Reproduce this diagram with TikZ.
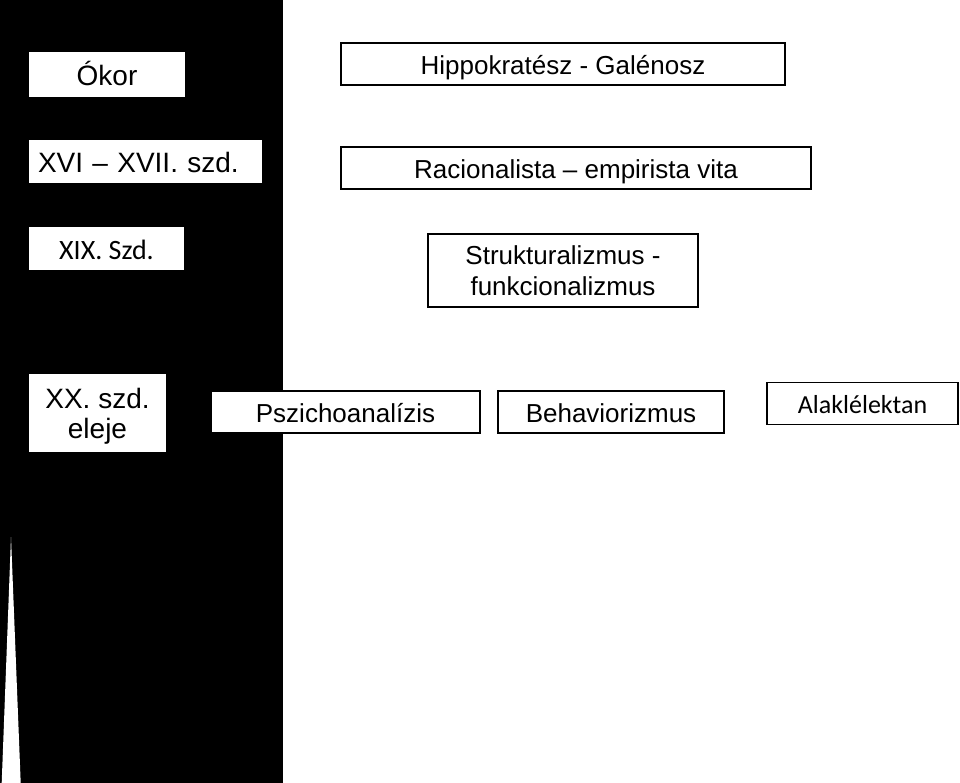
\documentclass[tikz,border=0pt]{standalone}
\usepackage{fontspec}
\setmainfont{Liberation Sans}
\newfontfamily\calibrifont{Carlito}

\begin{document}
\begin{tikzpicture}[x=1pt,y=-1pt,
    period/.style={fill=white,inner sep=0pt,font=\fontsize{28}{29}\selectfont,text height=30.8pt,text depth=8.4pt},
    topic/.style={draw,line width=1.3pt,fill=white,inner sep=0pt,font=\fontsize{26}{31}\selectfont,text height=28.6pt,text depth=7.8pt}]
        \useasboundingbox (0,0) rectangle (960,783);

        % the time band with its spike
        \fill[black] (0,0) rectangle (283,783);
        \fill[white] (11,537) -- (20.7,783) -- (1.7,783) -- cycle;

        % periods
        \node[period,minimum width=156,minimum height=45] (okor) at (107,74.5) {Ókor};
        \node[period,minimum height=43,inner xsep=9pt,text width=215pt,align=left] (ujkor) at (145.5,161.5) {XVI – XVII. szd.};
        \node[period,minimum width=155,minimum height=43,font=\calibrifont\fontsize{28}{29}\selectfont] (xix) at (106.5,248.5) {XIX. Szd.};
        \node[period,minimum width=137,minimum height=78,text height=,text depth=,align=center] (xx) at (97.5,413) {\rule{0pt}{26pt}XX. szd.\\[1pt]eleje};

        % schools
        \node[topic,minimum width=444,minimum height=42] (hippo) at (563,64) {Hippokratész - Galénosz};
        \node[topic,minimum width=470,minimum height=42] (racio) at (576,168) {Racionalista – empirista vita};
        \node[topic,minimum width=270,minimum height=73,text height=,text depth=,align=center] (struk) at (563,270.5) {Strukturalizmus -\\funkcionalizmus};
        \node[topic,minimum width=269,minimum height=42] (pszi) at (345.5,412) {Pszichoanalízis};
        \node[topic,minimum width=226,minimum height=42] (behav) at (611,412) {Behaviorizmus};
        \node[topic,minimum width=191,minimum height=42,font=\calibrifont\fontsize{26}{31}\selectfont] (alak) at (862.5,403.3) {Alaklélektan};
\end{tikzpicture}
\end{document}
